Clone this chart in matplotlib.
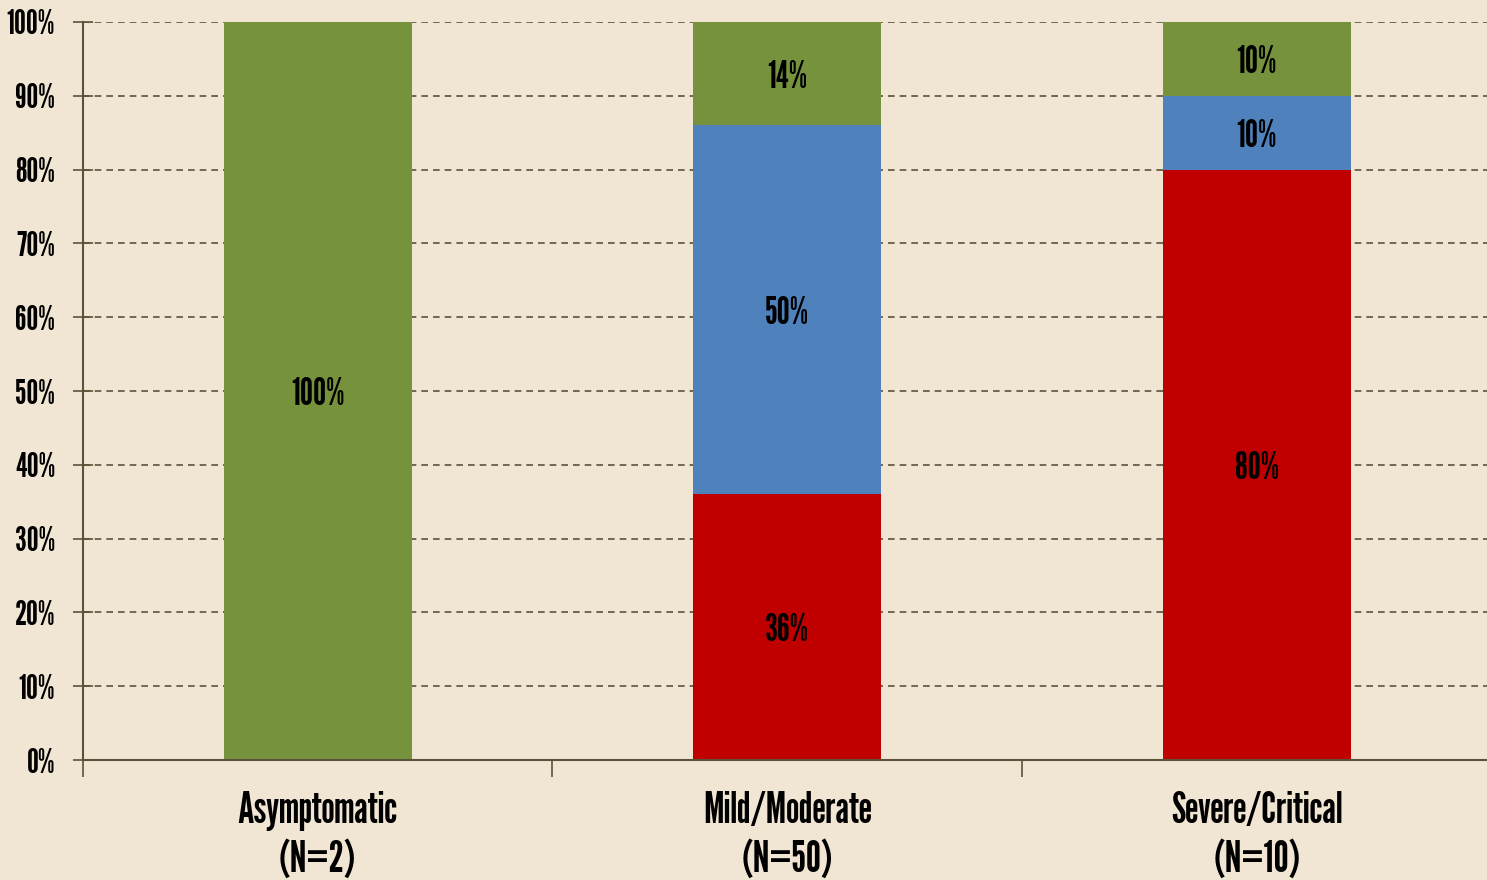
import matplotlib
matplotlib.use('Agg')
import matplotlib.pyplot as plt
import numpy as np

plt.rcParams['font.family'] = ['League Gothic', 'Oswald', 'Archivo Narrow', 'DejaVu Sans']

categories = ['Asymptomatic\n(N=2)', 'Mild/Moderate\n(N=50)', 'Severe/Critical\n(N=10)']
red_vals = [0, 36, 80]
blue_vals = [0, 50, 10]
green_vals = [100, 14, 10]

BG = '#f1e6d3'
AX_COLOR = '#5b5339'

fig = plt.figure(figsize=(14.87, 8.8), dpi=100, facecolor=BG)
ax = fig.add_axes([83 / 1487, 1 - 760 / 880, 1 - 83 / 1487 + 0.003, (760 - 22) / 880])
ax.set_facecolor(BG)

x = np.arange(len(categories))
w = 0.4
series = [(red_vals, '#c00000'), (blue_vals, '#4f81bd'), (green_vals, '#77923c')]
bottom = np.zeros(len(categories))
for vals, col in series:
    vals = np.array(vals, dtype=float)
    ax.bar(x, vals, w, bottom=bottom, color=col, zorder=2)
    for xi, b, v in zip(x, bottom, vals):
        if v > 0:
            ax.text(xi, b + v / 2, f'{v:.0f}%', ha='center', va='center_baseline',
                    fontsize=26.5, color='black', zorder=3)
    bottom += vals

ax.set_xlim(-0.5, 2.5)
ax.set_ylim(0, 100)
ax.set_yticks(np.arange(0, 101, 10))
ax.set_yticklabels([f'{v}%' for v in range(0, 101, 10)])
ax.yaxis.grid(True, linestyle=(0, (4, 3)), color=AX_COLOR, linewidth=1.2)
ax.set_axisbelow(True)

ax.set_xticks([-0.5, 0.5, 1.5])
ax.set_xticklabels([])
ax.set_xticks(x, minor=True)
ax.set_xticklabels(categories, minor=True, fontsize=30.5, linespacing=1.28)
ax.tick_params(axis='x', which='minor', length=0, pad=22)
ax.tick_params(axis='x', which='major', length=12, width=1.2, color=AX_COLOR, direction='out')
ax.tick_params(axis='y', length=14, width=1.2, color=AX_COLOR, direction='inout', labelsize=24, pad=13)

for s in ['top', 'right']:
    ax.spines[s].set_visible(False)
for s in ['left', 'bottom']:
    ax.spines[s].set_color(AX_COLOR)
    ax.spines[s].set_linewidth(1.5)

fig.savefig('out.png', dpi=100, facecolor=BG)
